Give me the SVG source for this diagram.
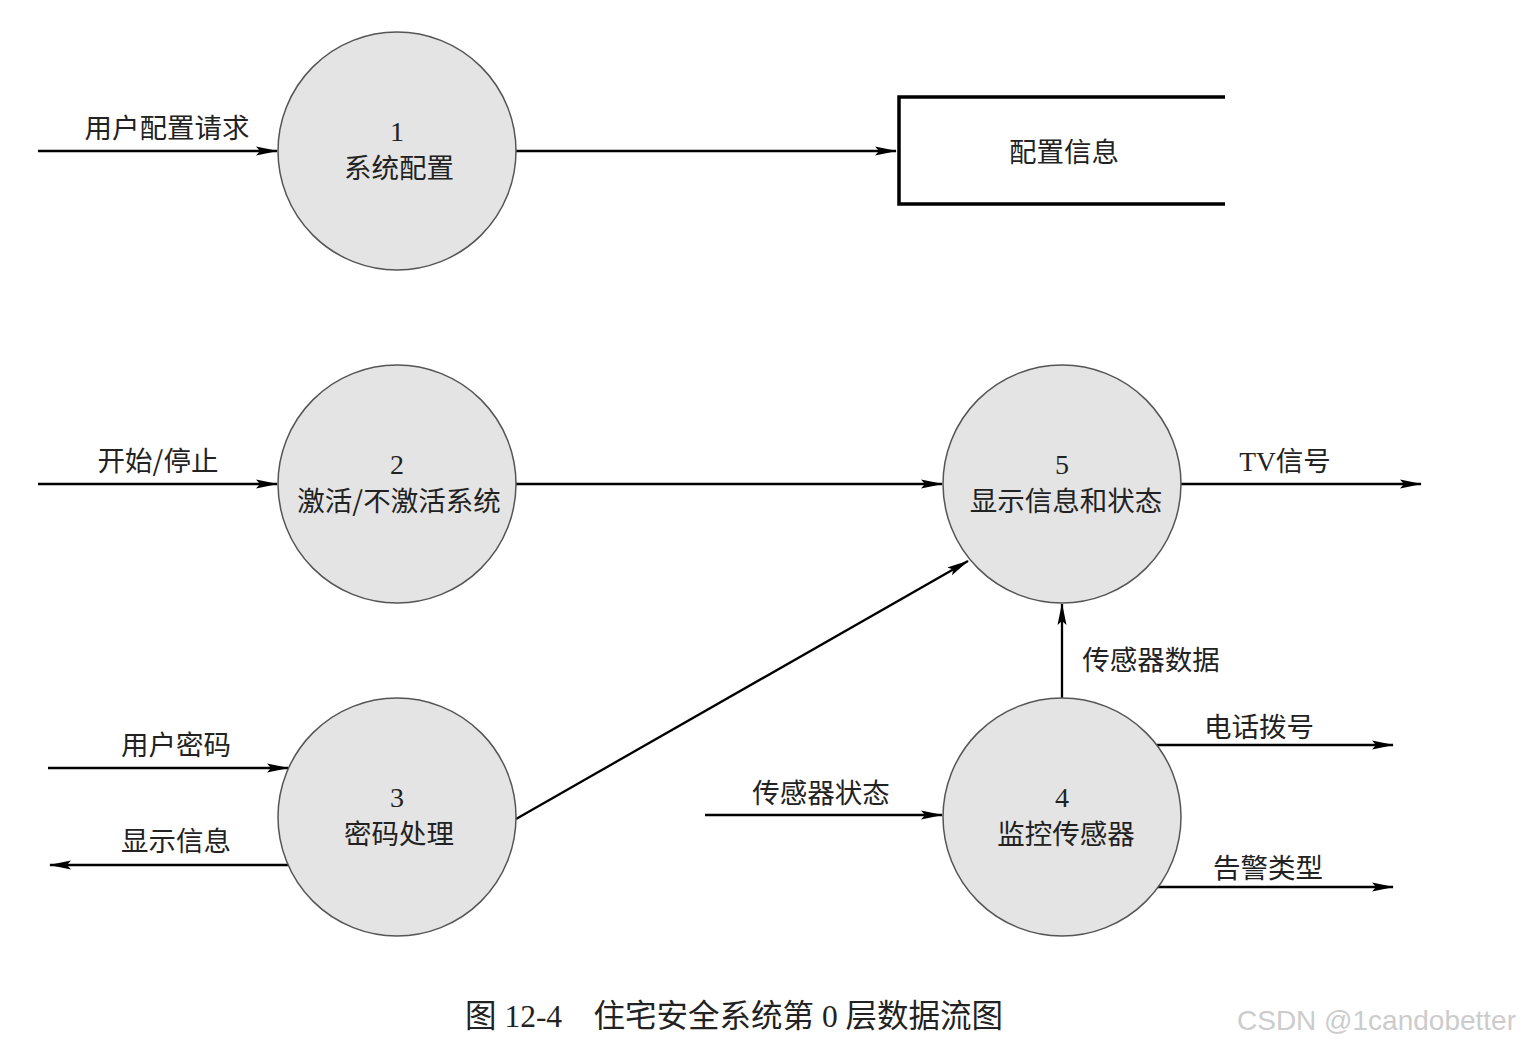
<svg xmlns="http://www.w3.org/2000/svg" width="1524" height="1046" viewBox="0 0 1524 1046">
<defs>
<marker id="ah" markerUnits="userSpaceOnUse" markerWidth="22" markerHeight="10" refX="21" refY="5" orient="auto">
<path d="M0,0.5 L22,5 L0,9.5 L4,5 Z" fill="#000"/>
</marker>
</defs>
<style>
.proc{fill:#e4e4e4;stroke:#555;stroke-width:1.5}
.t{font-family:"Noto Sans CJK SC","Liberation Sans",sans-serif;font-size:27.5px;fill:#222;text-anchor:middle}
.n{font-family:"Liberation Serif",serif;font-size:28px;fill:#222;text-anchor:middle}
.flow{stroke:#000;stroke-width:2.3;fill:none;marker-end:url(#ah)}
.store{stroke:#000;stroke-width:3.5;fill:none}
</style>
<rect width="1524" height="1046" fill="#fff"/>
<g id="connectors">
<line class="flow" x1="38" y1="151" x2="277" y2="151"/>
<line class="flow" x1="516" y1="151" x2="896" y2="151"/>
<line class="flow" x1="38" y1="484" x2="277" y2="484"/>
<line class="flow" x1="516" y1="484" x2="942" y2="484"/>
<line class="flow" x1="1181" y1="484" x2="1421" y2="484"/>
<line class="flow" x1="1062" y1="698" x2="1062" y2="604"/>
<line class="flow" x1="516" y1="819" x2="968" y2="561"/>
<line class="flow" x1="48" y1="768" x2="288" y2="768"/>
<line class="flow" x1="289" y1="865" x2="50" y2="865"/>
<line class="flow" x1="705" y1="815" x2="942" y2="815"/>
<line class="flow" x1="1157" y1="745" x2="1393" y2="745"/>
<line class="flow" x1="1157" y1="887" x2="1393" y2="887"/>
</g>
<g id="labels">
<text class="t" x="167" y="138">用户配置请求</text>
<text class="t" x="158" y="471">开始/停止</text>
<text class="t" x="1285" y="471"><tspan font-family="Liberation Serif">TV</tspan>信号</text>
<text class="t" x="1151" y="670">传感器数据</text>
<text class="t" x="1259" y="737">电话拨号</text>
<text class="t" x="1268" y="878">告警类型</text>
<text class="t" x="821" y="803">传感器状态</text>
<text class="t" x="176" y="755">用户密码</text>
<text class="t" x="176" y="851">显示信息</text>
</g>
<g id="p1">
<circle class="proc" cx="397" cy="151" r="119"/>
<text class="n" x="397" y="141">1</text>
<text class="t" x="399" y="178">系统配置</text>
</g>
<g id="store">
<polyline class="store" points="1225,97 899,97 899,204 1225,204"/>
<text class="t" x="1064" y="162">配置信息</text>
</g>
<g id="p2">
<circle class="proc" cx="397" cy="484" r="119"/>
<text class="n" x="397" y="474">2</text>
<text class="t" x="399" y="511">激活/不激活系统</text>
</g>
<g id="p5">
<circle class="proc" cx="1062" cy="484" r="119"/>
<text class="n" x="1062" y="474">5</text>
<text class="t" x="1066" y="511">显示信息和状态</text>
</g>
<g id="p3">
<circle class="proc" cx="397" cy="817" r="119"/>
<text class="n" x="397" y="807">3</text>
<text class="t" x="399" y="844">密码处理</text>
</g>
<g id="p4">
<circle class="proc" cx="1062" cy="817" r="119"/>
<text class="n" x="1062" y="807">4</text>
<text class="t" x="1066" y="844">监控传感器</text>
</g>
<text x="465" y="1027" font-family="Liberation Serif,'Noto Sans CJK SC',serif" font-size="31.5" fill="#222" xml:space="preserve">图 12-4    住宅安全系统第 0 层数据流图</text>
<text x="1237" y="1030" font-family="Liberation Sans,sans-serif" font-size="28" fill="#ccc">CSDN @1candobetter</text>
</svg>
